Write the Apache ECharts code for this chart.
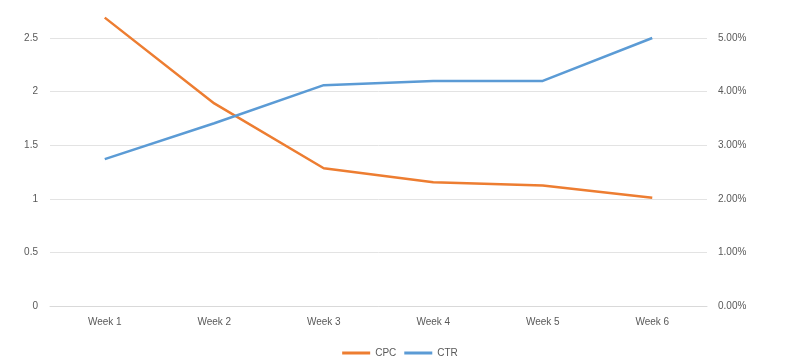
<!DOCTYPE html>
<html>
<head>
<meta charset="utf-8">
<script src="https://cdn.jsdelivr.net/npm/echarts@6/dist/echarts.min.js"></script>
<style>html,body{margin:0;padding:0;background:#fff}#c{width:800px;height:360px}</style>
</head>
<body>
<div id="c"></div>
<script>
var categories = ['Week 1', 'Week 2', 'Week 3', 'Week 4', 'Week 5', 'Week 6'];
var cpcValues = [2.69, 1.89, 1.285, 1.155, 1.125, 1.01];
var ctrValues = [2.74, 3.41, 4.12, 4.20, 4.20, 5.00];
var leftTicks = [0, 0.5, 1, 1.5, 2, 2.5];
var rightTicks = [0, 1, 2, 3, 4, 5];

var textColor = '#595959';
var font = 'Liberation Sans';
var chart = echarts.init(document.getElementById('c'), null, {renderer: 'canvas'});
chart.setOption({
  animation: false,
  textStyle: {fontFamily: font},
  grid: {left: 50, right: 93, top: 38, bottom: 54, containLabel: false},
  legend: {
    top: 343, left: 'center',
    itemWidth: 28, itemHeight: 3, itemGap: 8,
    icon: 'rect',
    textStyle: {color: textColor, fontSize: 10, fontFamily: font},
    data: ['CPC', 'CTR']
  },
  xAxis: {
    type: 'category',
    data: categories,
    boundaryGap: true,
    axisLine: {show: true, lineStyle: {color: '#d9d9d9', width: 1}},
    axisTick: {show: false},
    axisLabel: {color: textColor, fontSize: 10, margin: 11}
  },
  yAxis: [{
    type: 'value',
    min: leftTicks[0], max: leftTicks[leftTicks.length - 1], interval: 0.5,
    axisLine: {show: false}, axisTick: {show: false},
    splitLine: {lineStyle: {color: '#e3e3e3', width: 1}},
    axisLabel: {color: textColor, fontSize: 10, margin: 12}
  }, {
    type: 'value',
    min: rightTicks[0], max: rightTicks[rightTicks.length - 1], interval: 1,
    axisLine: {show: false}, axisTick: {show: false},
    splitLine: {show: false},
    axisLabel: {color: textColor, fontSize: 10, margin: 11, formatter: function (v) { return v.toFixed(2) + '%'; }}
  }],
  series: [{
    name: 'CPC', type: 'line', yAxisIndex: 0, data: cpcValues,
    symbol: 'none', clip: false,
    lineStyle: {color: '#ED7D31', width: 2.5},
    itemStyle: {color: '#ED7D31'}
  }, {
    name: 'CTR', type: 'line', yAxisIndex: 1, data: ctrValues,
    symbol: 'none', clip: false,
    lineStyle: {color: '#5B9BD5', width: 2.5},
    itemStyle: {color: '#5B9BD5'}
  }]
});
</script>
</body>
</html>
